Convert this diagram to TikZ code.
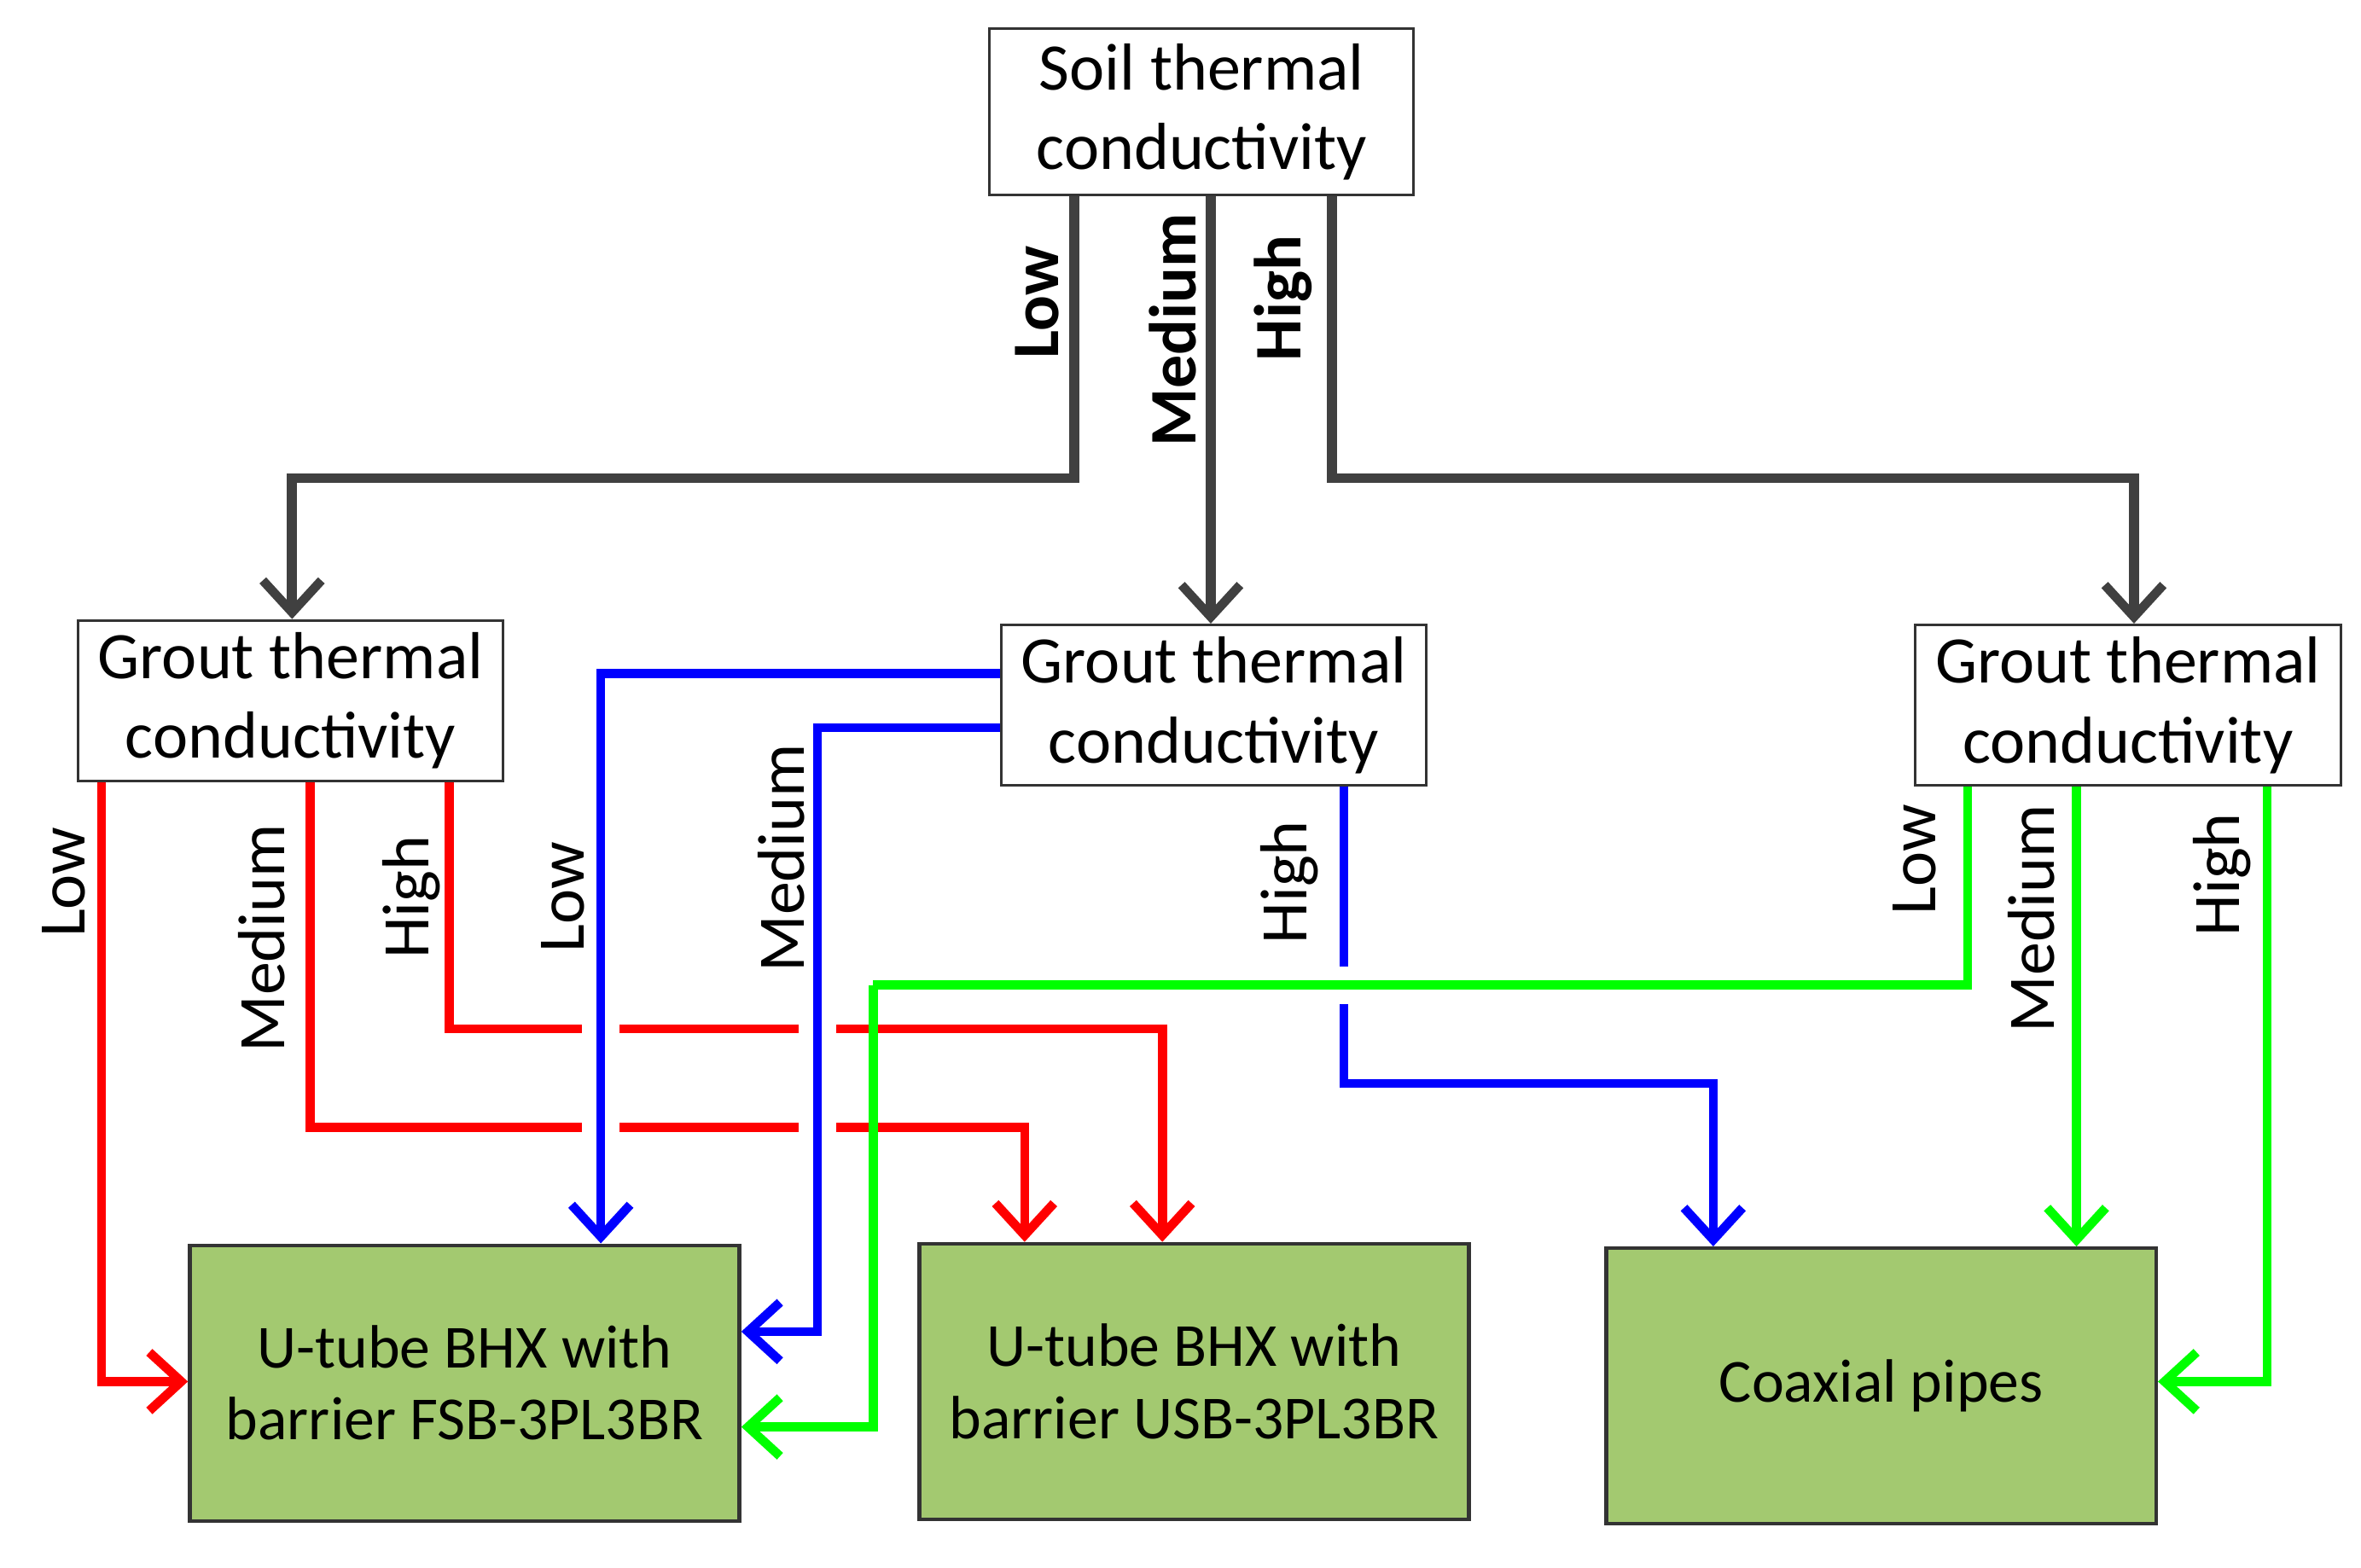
\documentclass[tikz,border=0pt]{standalone}
\usepackage{fontspec}
\setmainfont{Carlito}
\usetikzlibrary{arrows.meta}
\definecolor{gr}{RGB}{64,64,64}
\definecolor{fillg}{RGB}{163,201,112}
\definecolor{myred}{RGB}{255,0,0}
\definecolor{myblue}{RGB}{0,0,255}
\definecolor{mygreen}{RGB}{0,255,0}
\begin{document}
\begin{tikzpicture}[x=0.01cm,y=-0.01cm,
  font=\fontsize{12.5}{15}\selectfont,
  box/.style={draw=black!80,line width=0.5pt,fill=white,align=center,inner sep=0pt},
  gbox/.style={draw=black!80,line width=0.7pt,fill=fillg,align=center,inner sep=0pt,minimum width=3.63cm,minimum height=1.82cm,font=\fontsize{11.5}{13.5}\selectfont},
  arr/.style={line width=1.7pt,-{Straight Barb[length=6pt,width=11pt,line width=1.7pt]}},
  ga/.style={arr,draw=gr,line width=1.9pt},
  lab/.style={rotate=90,inner sep=0pt},
  halo/.style={preaction={draw=white,line width=7pt,-}}]
\useasboundingbox (0,0) rectangle (1560,1036);
\node[box,minimum width=2.80cm,minimum height=1.10cm] (soil) at (794,74) {Soil thermal\\conductivity};
\node[box,minimum width=2.81cm,minimum height=1.06cm] (gl) at (192,463) {Grout thermal\\conductivity};
\node[box,minimum width=2.81cm,minimum height=1.06cm] (gm) at (802,466) {Grout thermal\\conductivity};
\node[box,minimum width=2.81cm,minimum height=1.06cm] (gr) at (1406,466) {Grout thermal\\conductivity};
\node[gbox] (g1) at (307,914) {U-tube BHX with\\barrier FSB-3PL3BR};
\node[gbox] (g2) at (789,913) {U-tube BHX with\\barrier USB-3PL3BR};
\node[gbox] (g3) at (1243,916) {Coaxial pipes};
% gray
\draw[ga] (710,0 |- soil.south) -- (710,316) -- (193,316) -- (193,0 |- gl.north);
\draw[ga] (800,0 |- soil.south) -- (800,0 |- gm.north);
\draw[ga] (880,0 |- soil.south) -- (880,316) -- (1410,316) -- (1410,0 |- gr.north);
\node[lab,font=\fontsize{12.5}{15}\selectfont\bfseries] (l1) at (685,200) {Low};
\node[lab,font=\fontsize{12.5}{15}\selectfont\bfseries] (l2) at (775,218) {Medium};
\node[lab,font=\fontsize{12.5}{15}\selectfont\bfseries] (l3) at (848,197) {High};
% red
\draw[arr,myred] (67,0 |- gl.south) -- (67,913) -- (g1.west |- 0,913);
\draw[arr,myred] (205,0 |- gl.south) -- (205,745) -- (677,745) -- (677,0 |- g2.north);
\draw[arr,myred] (297,0 |- gl.south) -- (297,680) -- (768,680) -- (768,0 |- g2.north);
\node[lab] (r1) at (42,583) {Low};
\node[lab] (r2) at (173,620) {Medium};
\node[lab] (r3) at (272,593) {High};
% blue
\draw[arr,myblue,halo] (gm.west |- 0,445) -- (397,445) -- (397,0 |- g1.north);
\draw[arr,myblue,halo] (gm.west |- 0,481) -- (540,481) -- (540,880) -- (g1.east |- 0,880);
\draw[arr,myblue] (888,0 |- gm.south) -- (888,716) -- (1132,716) -- (1132,0 |- g3.north);
\node[lab] (b1) at (372,593) {Low};
\node[lab] (b2) at (516,567) {Medium};
\node[lab] (b3) at (852,583) {High};
% green
\draw[mygreen,line width=1.7pt,halo] (1300,0 |- gr.south) -- (1300,651) -- (577,651);
\draw[arr,mygreen] (577,651) -- (577,943) -- (g1.east |- 0,943);
\draw[arr,mygreen] (1372,0 |- gr.south) -- (1372,0 |- g3.north);
\draw[arr,mygreen] (1498,0 |- gr.south) -- (1498,913) -- (g3.east |- 0,913);
\node[lab] (c1) at (1265,568) {Low};
\node[lab] (c2) at (1342,607) {Medium};
\node[lab] (c3) at (1468,578) {High};
\end{tikzpicture}
\end{document}
